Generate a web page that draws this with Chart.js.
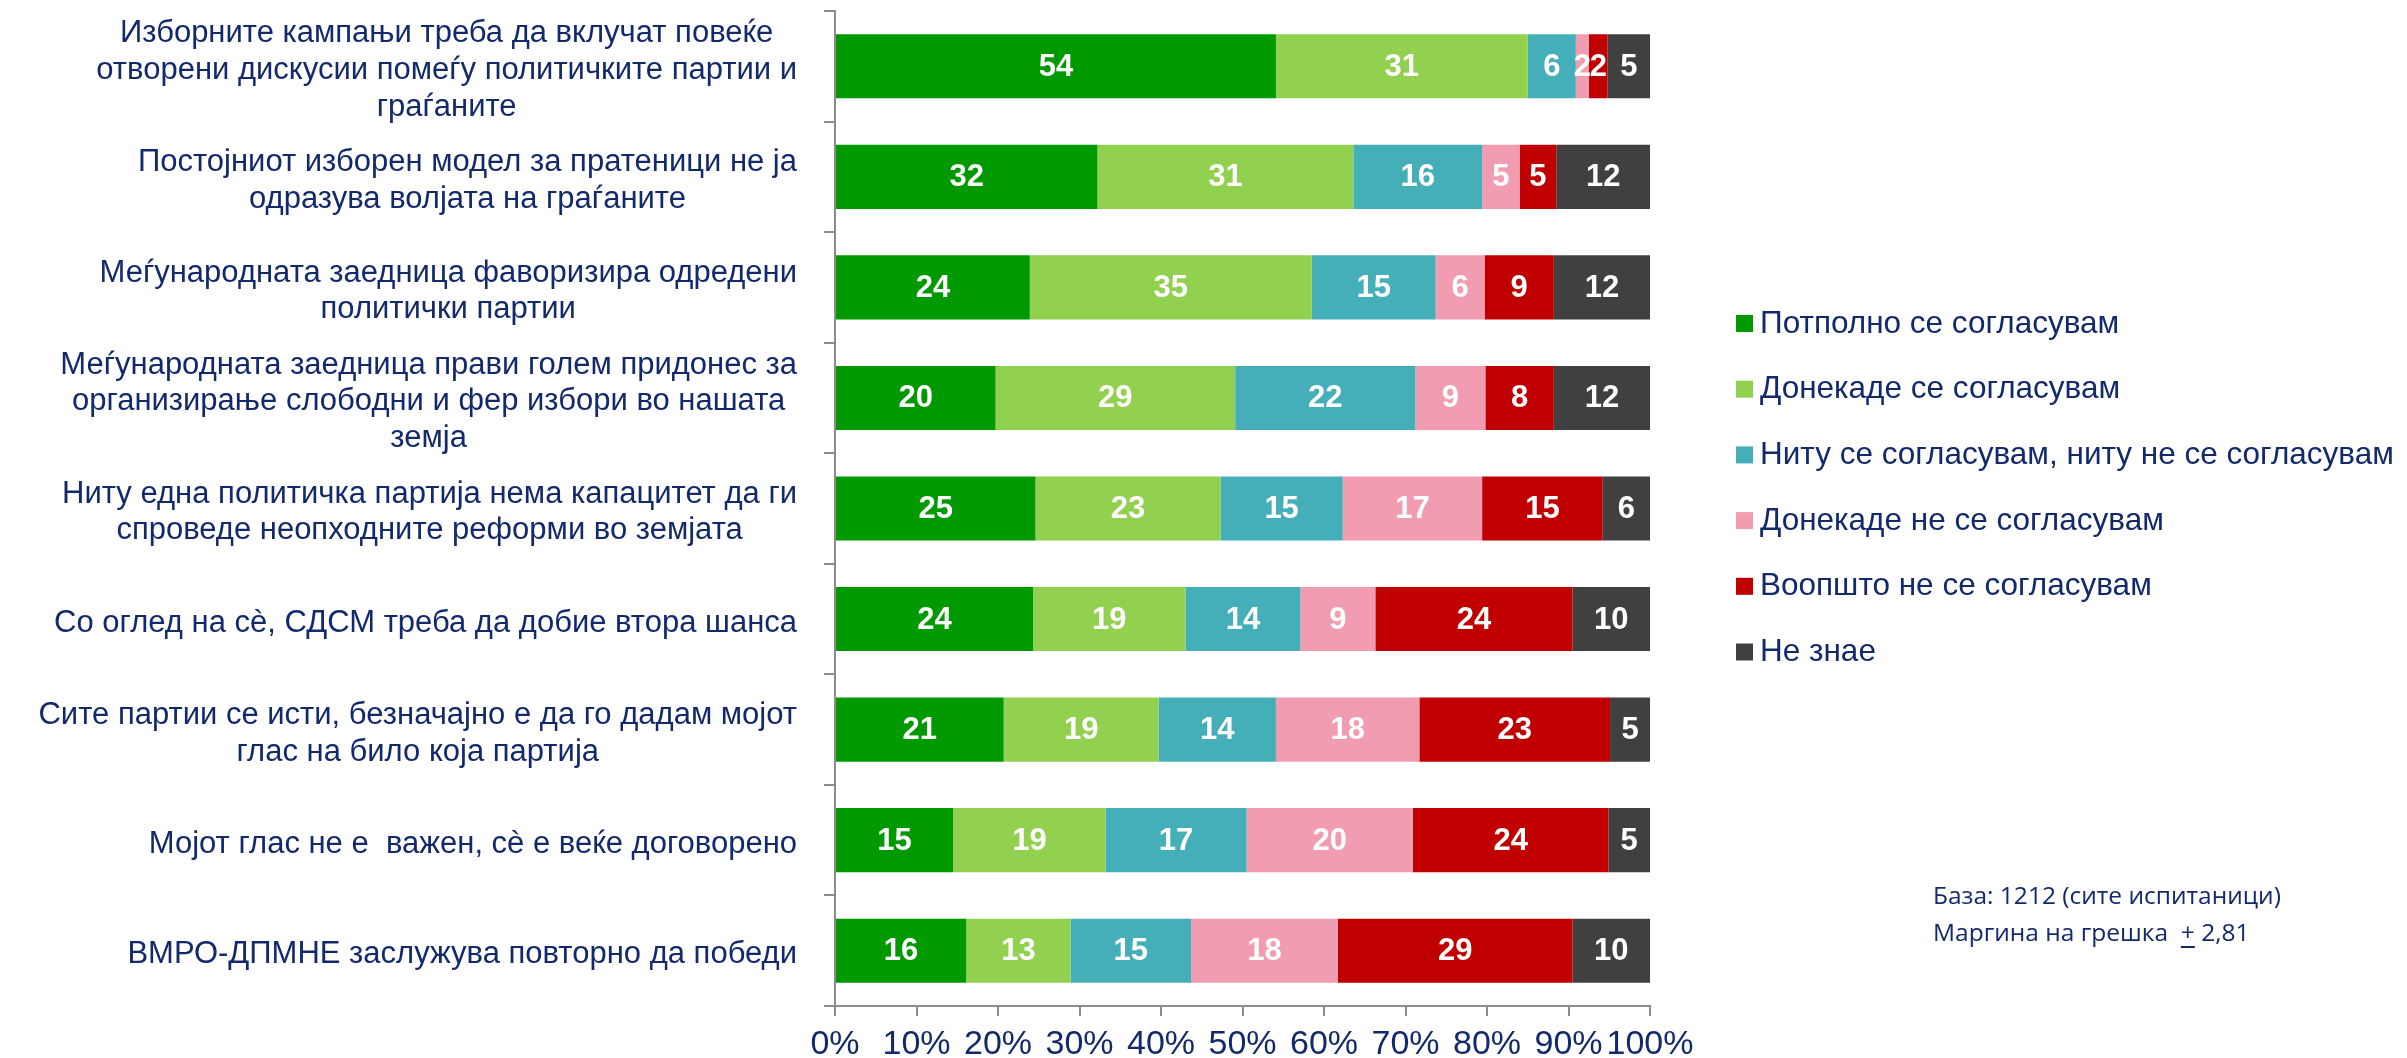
<!DOCTYPE html>
<html lang="mk">
<head>
    <meta charset="UTF-8">
    <title>Ставови за изборите</title>
    <script src="https://cdn.jsdelivr.net/npm/chart.js"></script>
    <style>
        body { margin: 0; background: #fff; }
        #wrap { width: 2407px; height: 1058px; }
    </style>
</head>
<body>
    <div id="wrap">
        <canvas id="surveyChart" width="2407" height="1058"></canvas>
    </div>
    <script>
        // categories (each one split in lines as in the original slide)
        var categories = [
            ['Изборните кампањи треба да вклучат повеќе', 'отворени дискусии помеѓу политичките партии и', 'граѓаните'],
            ['Постојниот изборен модел за пратеници не ја', 'одразува волјата на граѓаните'],
            ['Меѓународната заедница фаворизира одредени', 'политички партии'],
            ['Меѓународната заедница прави голем придонес за', 'организирање слободни и фер избори во нашата', 'земја'],
            ['Ниту една политичка партија нема капацитет да ги', 'спроведе неопходните реформи во земјата'],
            ['Со оглед на сè, СДСМ треба да добие втора шанса'],
            ['Сите партии се исти, безначајно е да го дадам мојот', 'глас на било која партија'],
            ['Мојот глас не е  важен, сè е веќе договорено'],
            ['ВМРО-ДПМНЕ заслужува повторно да победи']
        ];

        var seriesNames = [
            'Потполно се согласувам',
            'Донекаде се согласувам',
            'Ниту се согласувам, ниту не се согласувам',
            'Донекаде не се согласувам',
            'Воопшто не се согласувам',
            'Не знае'
        ];

        // percentages (labels show the rounded value)
        var fullyAgree       = [54.1, 32.2, 23.9, 19.7, 24.6, 24.3, 20.7, 14.5, 16.1];
        var partlyAgree      = [30.9, 31.4, 34.6, 29.4, 22.7, 18.7, 19.0, 18.7, 12.8];
        var neutral          = [5.9, 15.8, 15.2, 22.1, 15.0, 14.1, 14.4, 17.3, 14.8];
        var partlyDisagree   = [1.6, 4.6, 6.0, 8.6, 17.1, 9.2, 17.6, 20.4, 18.0];
        var stronglyDisagree = [2.3, 4.5, 8.5, 8.4, 14.8, 24.2, 23.4, 24.0, 28.8];
        var dontKnow         = [5.2, 11.5, 11.8, 11.8, 5.8, 9.5, 4.9, 5.1, 9.5];

        var xTickLabels = ['0%', '10%', '20%', '30%', '40%', '50%', '60%', '70%', '80%', '90%', '100%'];

        var colors = ['#009900', '#92d050', '#45afb9', '#f19cb1', '#c00000', '#404040'];
        var navy = '#12296c';
        var fam = "'Liberation Sans', Arial, sans-serif";

        var allSeries = [fullyAgree, partlyAgree, neutral, partlyDisagree, stronglyDisagree, dontKnow];
        var datasets = allSeries.map(function (vals, i) {
            return {
                label: seriesNames[i],
                data: vals,
                backgroundColor: colors[i],
                borderWidth: 0,
                categoryPercentage: 1,
                barPercentage: 0.58
            };
        });

        // labels left of the axis: block right aligned, lines centred
        var categoryLabels = {
            id: 'categoryLabels',
            afterDraw: function (chart) {
                var ctx = chart.ctx;
                var yScale = chart.scales.y;
                ctx.save();
                ctx.font = '31px ' + fam;
                ctx.fillStyle = navy;
                ctx.textAlign = 'center';
                ctx.textBaseline = 'middle';
                var lh = 36.7;
                categories.forEach(function (lines, i) {
                    var y = yScale.getPixelForValue(i) + 4;
                    var maxW = 0;
                    lines.forEach(function (l) { maxW = Math.max(maxW, ctx.measureText(l).width); });
                    var cx = 797 - maxW / 2;
                    lines.forEach(function (l, k) {
                        ctx.fillText(l, cx, y + (k - (lines.length - 1) / 2) * lh);
                    });
                });
                ctx.restore();
            }
        };

        // percent labels under the x axis
        var xLabels = {
            id: 'xLabels',
            afterDraw: function (chart) {
                var ctx = chart.ctx;
                var xScale = chart.scales.x;
                ctx.save();
                ctx.font = '34px ' + fam;
                ctx.fillStyle = navy;
                ctx.textAlign = 'center';
                ctx.textBaseline = 'middle';
                xScale.ticks.forEach(function (t, i) {
                    ctx.fillText(xTickLabels[i], xScale.getPixelForValue(t.value), 1045);
                });
                ctx.restore();
            }
        };

        // white numbers in the middle of each segment
        var barValues = {
            id: 'barValues',
            afterDatasetsDraw: function (chart) {
                var ctx = chart.ctx;
                ctx.save();
                ctx.font = 'bold 31px ' + fam;
                ctx.fillStyle = '#ffffff';
                ctx.textAlign = 'center';
                ctx.textBaseline = 'middle';
                chart.data.datasets.forEach(function (ds, i) {
                    chart.getDatasetMeta(i).data.forEach(function (bar, j) {
                        var c = bar.getCenterPoint();
                        ctx.fillText(String(Math.round(ds.data[j])), c.x, c.y + 1);
                    });
                });
                ctx.restore();
            }
        };

        // legend and footnote on the right
        var sideNotes = {
            id: 'sideNotes',
            afterDraw: function (chart) {
                var ctx = chart.ctx;
                ctx.save();
                ctx.textBaseline = 'middle';
                ctx.textAlign = 'left';
                ctx.font = '31.5px ' + fam;
                chart.data.datasets.forEach(function (ds, i) {
                    var y = 323 + i * 65.7;
                    ctx.fillStyle = ds.backgroundColor;
                    ctx.fillRect(1736, y - 8, 17, 17);
                    ctx.fillStyle = navy;
                    ctx.fillText(ds.label, 1760, y + 1);
                });

                ctx.font = "24.5px 'Open Sans', 'Noto Sans', sans-serif";
                ctx.fillStyle = navy;
                ctx.fillText('База: 1212 (сите испитаници)', 1933, 897);
                var x = 1933, y2 = 934;
                var part1 = 'Маргина на грешка  ';
                ctx.fillText(part1, x, y2);
                x += ctx.measureText(part1).width;
                ctx.fillText('+', x, y2);
                var pw = ctx.measureText('+').width;
                ctx.fillRect(x, y2 + 12, pw, 2);
                ctx.fillText(' 2,81', x + pw, y2);
                ctx.restore();
            }
        };

        var ctx = document.getElementById('surveyChart').getContext('2d');
        var surveyChart = new Chart(ctx, {
            type: 'bar',
            data: { labels: categories, datasets: datasets },
            options: {
                indexAxis: 'y',
                responsive: false,
                animation: false,
                layout: { padding: { top: 11, right: 757, bottom: 0, left: 0 } },
                plugins: {
                    legend: { display: false },
                    tooltip: { enabled: false }
                },
                scales: {
                    x: {
                        stacked: true,
                        min: 0,
                        max: 100,
                        ticks: { stepSize: 10, autoSkip: false, display: false },
                        grid: { drawOnChartArea: false, color: '#8c8c8c', lineWidth: 2, tickLength: 10 },
                        border: { color: '#8c8c8c', width: 2 },
                        afterFit: function (scale) { scale.height = 52; }
                    },
                    y: {
                        stacked: true,
                        ticks: { display: false },
                        grid: { drawOnChartArea: false, color: '#8c8c8c', lineWidth: 2, tickLength: 11 },
                        border: { color: '#8c8c8c', width: 2 },
                        afterFit: function (scale) { scale.width = 835; }
                    }
                }
            },
            plugins: [categoryLabels, xLabels, barValues, sideNotes]
        });
    </script>
</body>
</html>
